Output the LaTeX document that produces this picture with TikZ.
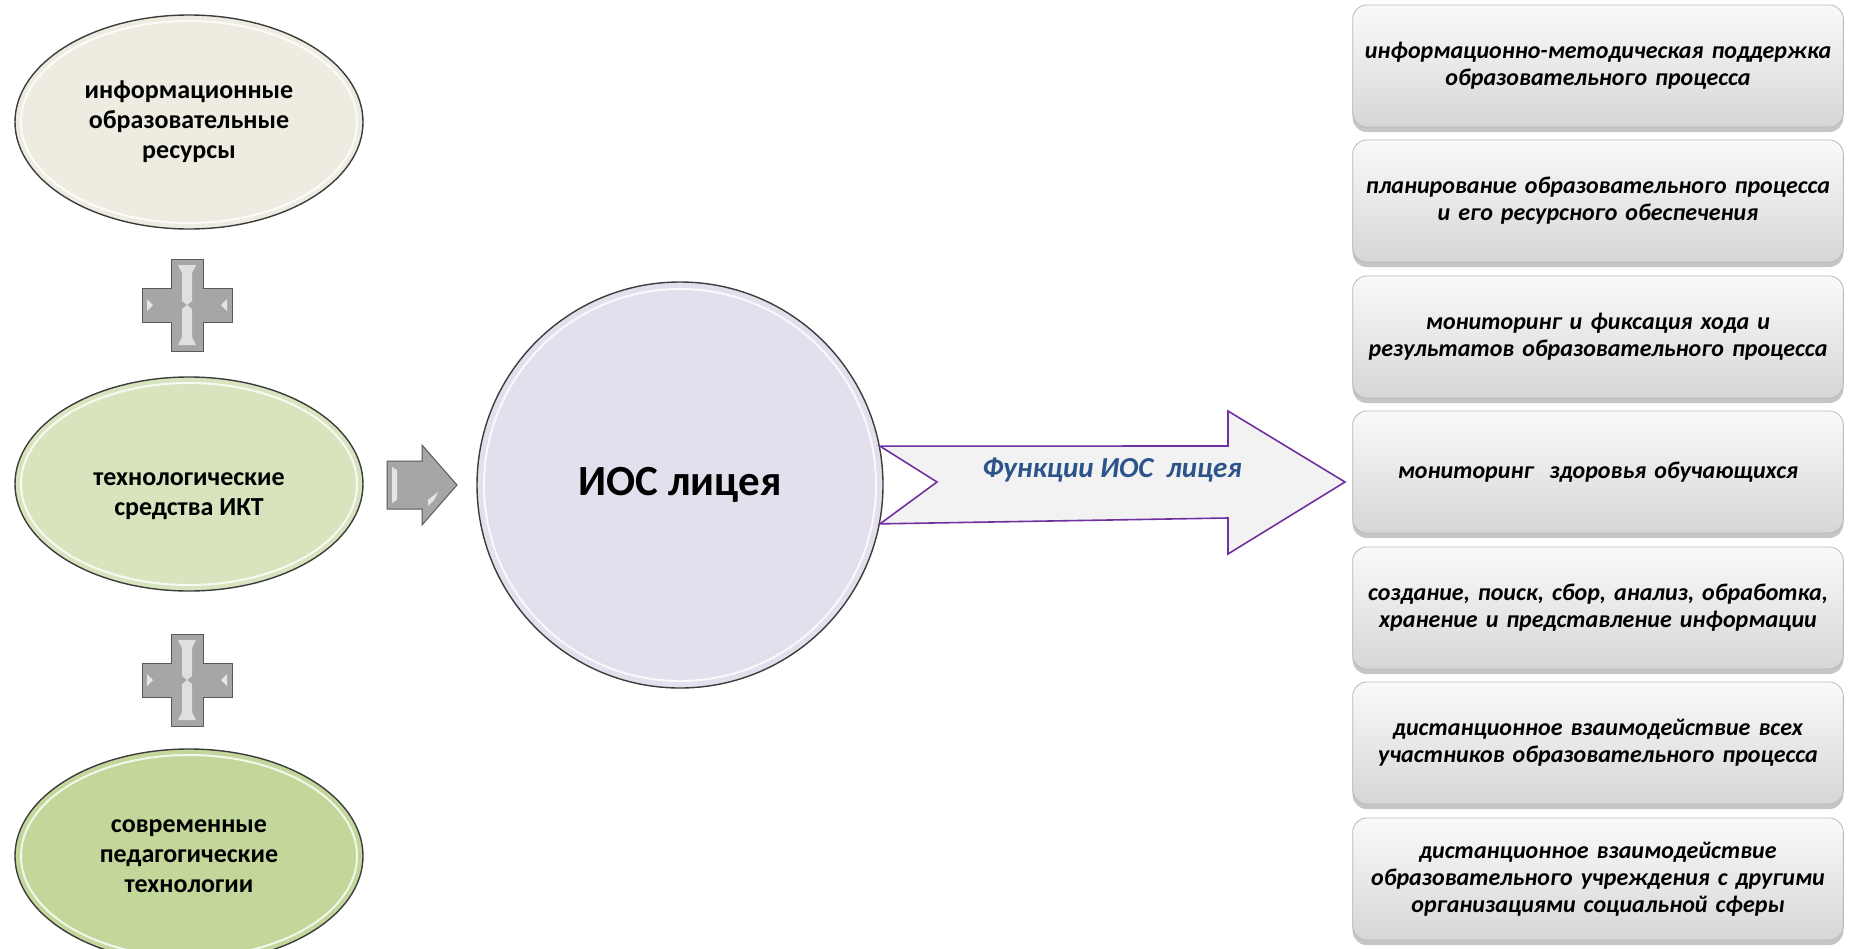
\documentclass[tikz,border=0pt]{standalone}
\usepackage{fontspec}
\setmainfont{Carlito}
\usetikzlibrary{shapes.geometric,shadows}
\definecolor{ellA}{RGB}{238,236,225}
\definecolor{ellB}{RGB}{216,228,190}
\definecolor{ellC}{RGB}{196,215,155}
\definecolor{circfill}{RGB}{228,223,236}
\definecolor{arrowfill}{RGB}{242,242,242}
\definecolor{arrowline}{RGB}{112,48,160}
\definecolor{funcblue}{RGB}{44,84,138}
\definecolor{plusgray}{RGB}{166,166,166}
\definecolor{edgegray}{RGB}{60,60,60}
\tikzset{
  ellnode/.style={ellipse, draw=edgegray, line width=1.4pt, minimum width=348pt,
    minimum height=214pt, inner sep=0pt, align=center,
    font=\fontsize{26}{30}\selectfont\bfseries},
  funcbox/.style={rectangle, rounded corners=14pt, minimum width=490pt,
    minimum height=122pt, text width=484pt, align=center,
    top color=white!96!gray, bottom color=gray!32, draw=gray!55, line width=0.8pt,
    drop shadow={shadow xshift=0pt, shadow yshift=-5pt, opacity=.45},
    font=\fontsize{24}{27}\selectfont\bfseries\itshape},
  highlight/.style={white, line width=2pt, opacity=.8},
  grayarrow/.style={fill=plusgray, draw=black!65, line width=1pt, line join=miter},
  plussign/.pic={
    \draw[grayarrow] (-16,-46) -- (16,-46) -- (16,-17) -- (45,-17) -- (45,17) -- (16,17)
      -- (16,46) -- (-16,46) -- (-16,17) -- (-45,17) -- (-45,-17) -- (-16,-17) -- cycle;
    \fill[white!75!gray] (-9,-40) -- (9,-40) -- (5,-32) -- (5,-4) -- (0,0) -- (-5,-4)
      -- (-5,-32) -- cycle;
    \fill[white!75!gray] (-9,40) -- (9,40) -- (5,32) -- (5,4) -- (0,0) -- (-5,4)
      -- (-5,32) -- cycle;
    \fill[white!80!gray] (-40,-6) -- (-34,0) -- (-40,6) -- cycle
                         (40,-6) -- (34,0) -- (40,6) -- cycle;
  }
}
\begin{document}
\begin{tikzpicture}[x=1pt,y=-1pt]
\useasboundingbox (0,0) rectangle (1849,948);

% left ellipses
\node[ellnode, fill=ellA] (e1) at (189,122) {информационные\\образовательные\\ресурсы};
\node[ellnode, fill=ellB] (e2) at (189,484) {};
\node[font=\fontsize{26}{30}\selectfont\bfseries, align=center] (t2) at (189,496)
  {технологические\\средства ИКТ};
\node[ellnode, fill=ellC] (e3) at (189,856) {современные\\педагогические\\технологии};
\foreach \c in {e1,e2,e3}
  \draw[highlight] (\c.center) ellipse [x radius=168, y radius=101];

% plus signs
\pic at (187,305) {plussign};
\pic at (187,680) {plussign};

% small gray arrow
\draw[grayarrow] (387,461) -- (422,461) -- (422,445) -- (457,485) -- (422,525)
  -- (422,509) -- (387,509) -- cycle;
\fill[white!80!gray] (392,467) -- (397,470) -- (397,500) -- (392,503) -- cycle;
\fill[white!80!gray] (428,500) -- (438,492) -- (434,500) -- (428,506) -- cycle;

% central circle
\node[circle, draw=edgegray, line width=1.4pt, fill=circfill, minimum size=406pt,
  inner sep=0pt, font=\fontsize{43}{48}\selectfont\bfseries] (ios) at (680,485) {ИОС лицея};
\draw[highlight] (ios.center) circle [radius=196];

% big notched arrow
\coordinate (tip) at (1345,482);
\draw[fill=arrowfill, draw=arrowline, line width=1.6pt, line join=miter]
  (ios.11) -- (1228,446) -- (1228,411) -- (tip) -- (1228,554) -- (1228,518)
  -- (ios.-11) -- (937,482) -- cycle;
\node[font=\fontsize{29}{34}\selectfont\bfseries\itshape, text=funcblue] (fl) at (1112,470)
  {Функции ИОС~ лицея};

% function boxes
\node[funcbox] (b1) at (1598,66) {информационно-методическая поддержка\\образовательного процесса};
\node[funcbox] (b2) at (1598,201) {планирование образовательного процесса\\и его ресурсного обеспечения};
\node[funcbox] (b3) at (1598,337) {мониторинг и фиксация хода и\\результатов образовательного процесса};
\node[funcbox] (b4) at (1598,472) {мониторинг~ здоровья обучающихся};
\node[funcbox] (b5) at (1598,608) {создание, поиск, сбор, анализ, обработка,\\хранение и представление информации};
\node[funcbox] (b6) at (1598,743) {дистанционное взаимодействие всех\\участников образовательного процесса};
\node[funcbox] (b7) at (1598,879) {дистанционное взаимодействие\\образовательного учреждения с другими\\организациями социальной сферы};
\end{tikzpicture}
\end{document}
